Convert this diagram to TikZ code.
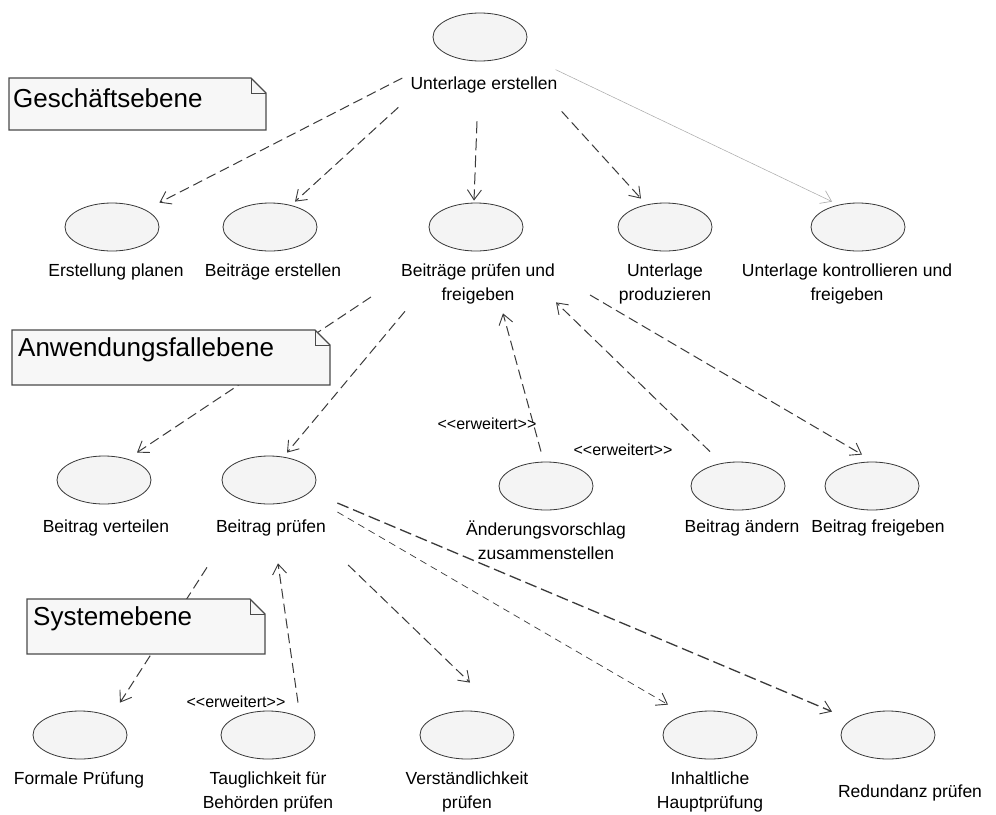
\documentclass[tikz,border=0pt]{standalone}
\usepackage{fontspec}
\setmainfont{Liberation Sans}[Ligatures=TeXOff]
\usetikzlibrary{shapes.geometric,arrows.meta,calc}

\definecolor{ucfill}{HTML}{F4F4F4}
\definecolor{ucline}{HTML}{383838}
\definecolor{notefill}{HTML}{F7F7F7}
\definecolor{noteline}{HTML}{4A4A4A}
\definecolor{depline}{HTML}{3A3A3A}
\definecolor{faintline}{HTML}{A8A8A8}

\newcommand{\lblfont}{\fontsize{17.5}{24}\selectfont}
\newcommand{\notefont}{\fontsize{26}{30}\selectfont}
\newcommand{\stfont}{\fontsize{16}{19}\selectfont}

\tikzset{
  uc/.style={ellipse, draw=ucline, fill=ucfill, line width=0.8pt,
    minimum width=94pt, minimum height=48pt, inner sep=0pt},
  lbl/.style={font=\lblfont, align=center, inner sep=0pt},
  stereo/.style={font=\stfont, inner sep=0pt},
  dep/.style={draw=depline, line width=1pt, dash pattern=on 10pt off 5pt,
    -{Straight Barb[length=10pt,width=14pt,line width=0.9pt]}},
  depthin/.style={dep, line width=0.7pt, dash pattern=on 7pt off 5pt},
  depthick/.style={dep, line width=1.3pt, dash pattern=on 12pt off 5pt},
  faint/.style={draw=faintline, line width=0.5pt,
    -{Straight Barb[length=10pt,width=14pt,line width=0.6pt]}},
  notebody/.style={draw=noteline, fill=notefill, line width=1.2pt, line join=miter},
  notefold/.style={draw=noteline, line width=0.8pt},
  notetext/.style={font=\notefont, inner sep=0pt, anchor=west},
}

\begin{document}
\begin{tikzpicture}[x=1pt,y=-1pt]
  \path[use as bounding box, fill=white] (0,0) rectangle (996,814);

  % ---------- use cases ----------
  \node[uc] (ue) at (480,37) {};
  \node[lbl] (ueL) at (484,85) {Unterlage erstellen};

  \node[uc] (ep) at (112,227) {};
  \node[lbl] (epL) at (116,272) {Erstellung planen};
  \node[uc] (be) at (270,227) {};
  \node[lbl] (beL) at (273,272) {Beiträge erstellen};
  \node[uc] (bp) at (476,227) {};
  \node[lbl] (bpL) at (478,284) {Beiträge prüfen und\\freigeben};
  \node[uc] (up) at (665,227) {};
  \node[lbl] (upL) at (665,284) {Unterlage\\produzieren};
  \node[uc] (uk) at (858,227) {};
  \node[lbl] (ukL) at (847,284) {Unterlage kontrollieren und\\freigeben};

  \node[uc] (bv) at (104,480) {};
  \node[lbl] (bvL) at (106,528) {Beitrag verteilen};
  \node[uc] (bpr) at (269,480) {};
  \node[lbl] (bprL) at (271,528) {Beitrag prüfen};
  \node[uc] (av) at (546,486) {};
  \node[lbl] (avL) at (546,540) {Änderungsvorschlag\\zusammenstellen};
  \node[uc] (ba) at (738,486) {};
  \node[lbl] (baL) at (742,528) {Beitrag ändern};
  \node[uc] (bf) at (872,486) {};
  \node[lbl] (bfL) at (878,528) {Beitrag freigeben};

  \node[uc] (fp) at (80,735) {};
  \node[lbl] (fpL) at (79,780) {Formale Prüfung};
  \node[uc] (tb) at (268,735) {};
  \node[lbl] (tbL) at (268,792) {Tauglichkeit für\\Behörden prüfen};
  \node[uc] (vp) at (467,735) {};
  \node[lbl] (vpL) at (467,792) {Verständlichkeit\\prüfen};
  \node[uc] (ih) at (710,735) {};
  \node[lbl] (ihL) at (710,792) {Inhaltliche\\Hauptprüfung};
  \node[uc] (rp) at (888,735) {};
  \node[lbl] (rpL) at (910,793) {Redundanz prüfen};

  % ---------- dependencies, top level ----------
  \draw[dep] ([shift={(-8,-7)}]ueL.west) -- (ep.east |- ep.north);
  \draw[dep] ([shift={(-12,14)}]ueL.south west) -- ([shift={(25,-1)}]be.north);
  \draw[dep, dash pattern=on 12pt off 5pt] ([shift={(-7,28)}]ueL.south) -- ([shift={(-2,-2)}]bp.north);
  \draw[dep] ([shift={(4,18)}]ueL.south east) -- ([shift={(-24,-4)}]up.north);
  \draw[faint] ([shift={(-2,-7)}]ueL.north east) -- ([shift={(-26,-1)}]uk.north);

  % ---------- dependencies, use case level ----------
  \draw[dep] ([shift={(-30,13)}]bpL.west) -- ([shift={(33,-3)}]bv.north);
  \draw[dep] ([shift={(4,7)}]bpL.south west) -- ([shift={(18,-3)}]bpr.north);
  \draw[dep] ([shift={(-5,-10)}]av.north) -- ([shift={(25,9)}]bpL.south);
  \draw[dep] ([shift={(-28,-10)}]ba.north) -- ([shift={(1,-2)}]bpL.south east);
  \draw[dep] ([shift={(35,11)}]bpL.east) -- ([shift={(-10,-7)}]bf.north);
  \node[stereo] (st1) at (487,424) {<<erweitert>>};
  \node[stereo] (st2) at (623,450) {<<erweitert>>};

  % ---------- dependencies, system level ----------
  \draw[dep] ([shift={(-64,31)}]bprL.south) -- ([shift={(40,-8)}]fp.north);
  \draw[dep] ([shift={(30,-8)}]tb.north) -- ([shift={(7,27)}]bprL.south);
  \draw[dep] ([shift={(22,37)}]bprL.east) -- ([shift={(3,-28)}]vp.north);
  \draw[depthin] ([shift={(21,32)}]bpr.east) -- ([shift={(-42,-6)}]ih.north);
  \draw[depthick] ([shift={(21,23)}]bpr.east) -- ([shift={(-56,1)}]rp.north);
  \node[stereo] (st3) at (236,702) {<<erweitert>>};

  % ---------- level notes ----------
  \path[notebody] (9,78) -- (251,78) -- (266,93) -- (266,130) -- (9,130) -- cycle;
  \draw[notefold] (251,78) -- (251,93) -- (266,93);
  \node[notetext] (n1) at (13,98) {Geschäftsebene};

  \path[notebody] (12,330) -- (315,330) -- (330,345) -- (330,385) -- (12,385) -- cycle;
  \draw[notefold] (315,330) -- (315,345) -- (330,345);
  \node[notetext] (n2) at (18,350) {Anwendungsfallebene};

  \path[notebody] (27,599) -- (250,599) -- (265,614) -- (265,654) -- (27,654) -- cycle;
  \draw[notefold] (250,599) -- (250,614) -- (265,614);
  \node[notetext] (n3) at (33,619) {Systemebene};
\end{tikzpicture}
\end{document}
